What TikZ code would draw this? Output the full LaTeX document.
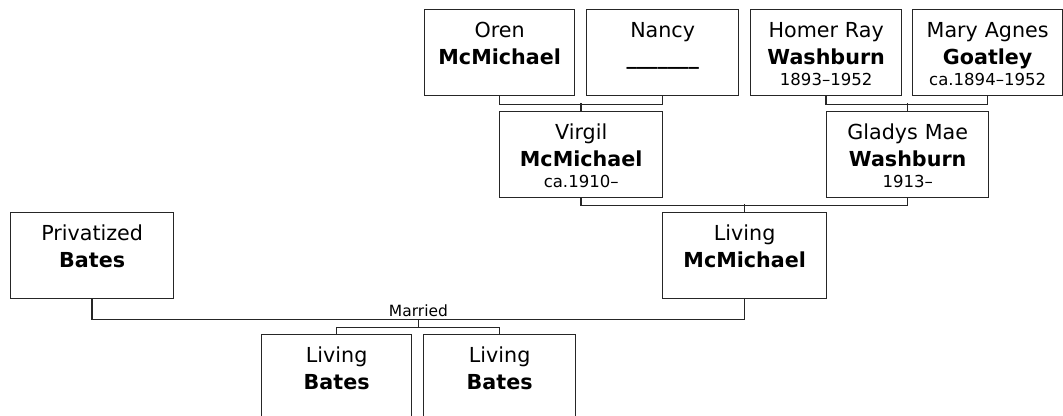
\documentclass[tikz,border=0pt]{standalone}
\usepackage{fontspec}
\setmainfont{DejaVu Sans}
\usepackage{tikz}
\setlength{\parindent}{0pt}
\newcommand{\datefont}{\fontsize{12.4}{20}\selectfont}
\newcommand{\famname}[3]{\rule{0pt}{21.25pt}#1\\\textbf{#2}\ifx\relax#3\relax\rule[-23.25pt]{0pt}{0pt}\else\\[-4.25pt]{\datefont #3}\rule[-7.5pt]{0pt}{0pt}\fi}
\tikzset{
  person/.style={draw=black!85, line width=1pt, anchor=north west, inner sep=0pt,
    minimum width=#1*0.75pt, minimum height=64.5pt, text width=100pt, align=center,
    font=\fontsize{15.5}{20}\selectfont},
  link/.style={draw=black!85, line width=1.1pt},
}

\begin{document}
\begin{tikzpicture}[x=0.75pt, y=-0.75pt]
\path[fill=white, use as bounding box] (0,0) rectangle (1063,416);
\clip (0,0) rectangle (1063,416);
\node[person=150] (oren) at (424,9) {\famname{Oren}{McMichael}{}};
\node[person=152] (nancy) at (586,9) {\famname{Nancy}{\_\_\_\_\_\_\_}{}};
\node[person=151] (homer) at (750,9) {\famname{Homer Ray}{Washburn}{1893--1952}};
\node[person=150] (mary) at (912,9) {\famname{Mary Agnes}{Goatley}{ca.1894--1952}};
\node[person=163] (virgil) at (499,111) {\famname{Virgil}{McMichael}{ca.1910--}};
\node[person=162] (gladys) at (826,111) {\famname{Gladys Mae}{Washburn}{1913--}};
\node[person=163] (priv) at (10,212) {\famname{Privatized}{Bates}{}};
\node[person=164] (livmc) at (662,212) {\famname{Living}{McMichael}{}};
\node[person=150] (batesA) at (261,334) {\famname{Living}{Bates}{}};
\node[person=152] (batesB) at (423,334) {\famname{Living}{Bates}{}};
\draw[link] (oren.south) -- ++(0,8) -| (nancy.south);
\draw[link] (virgil.north) -- ++(0,-8);
\draw[link] (homer.south) -- ++(0,8) -| (mary.south);
\draw[link] (gladys.north) -- ++(0,-8);
\draw[link] (virgil.south) -- ++(0,7) -| (gladys.south);
\draw[link] (livmc.north) -- ++(0,-8);
\draw[link] (priv.south) -- ++(0,20) -| node[pos=0.25, above, font=\fontsize{11.6}{14}\selectfont, inner sep=1.5pt] (married) {Married} coordinate[pos=0.25] (wed) (livmc.south);
\draw[link] (wed) -- ++(0,8) coordinate (fork);
\draw[link] (batesA.north) |- (fork) -| (batesB.north);
\end{tikzpicture}
\end{document}
